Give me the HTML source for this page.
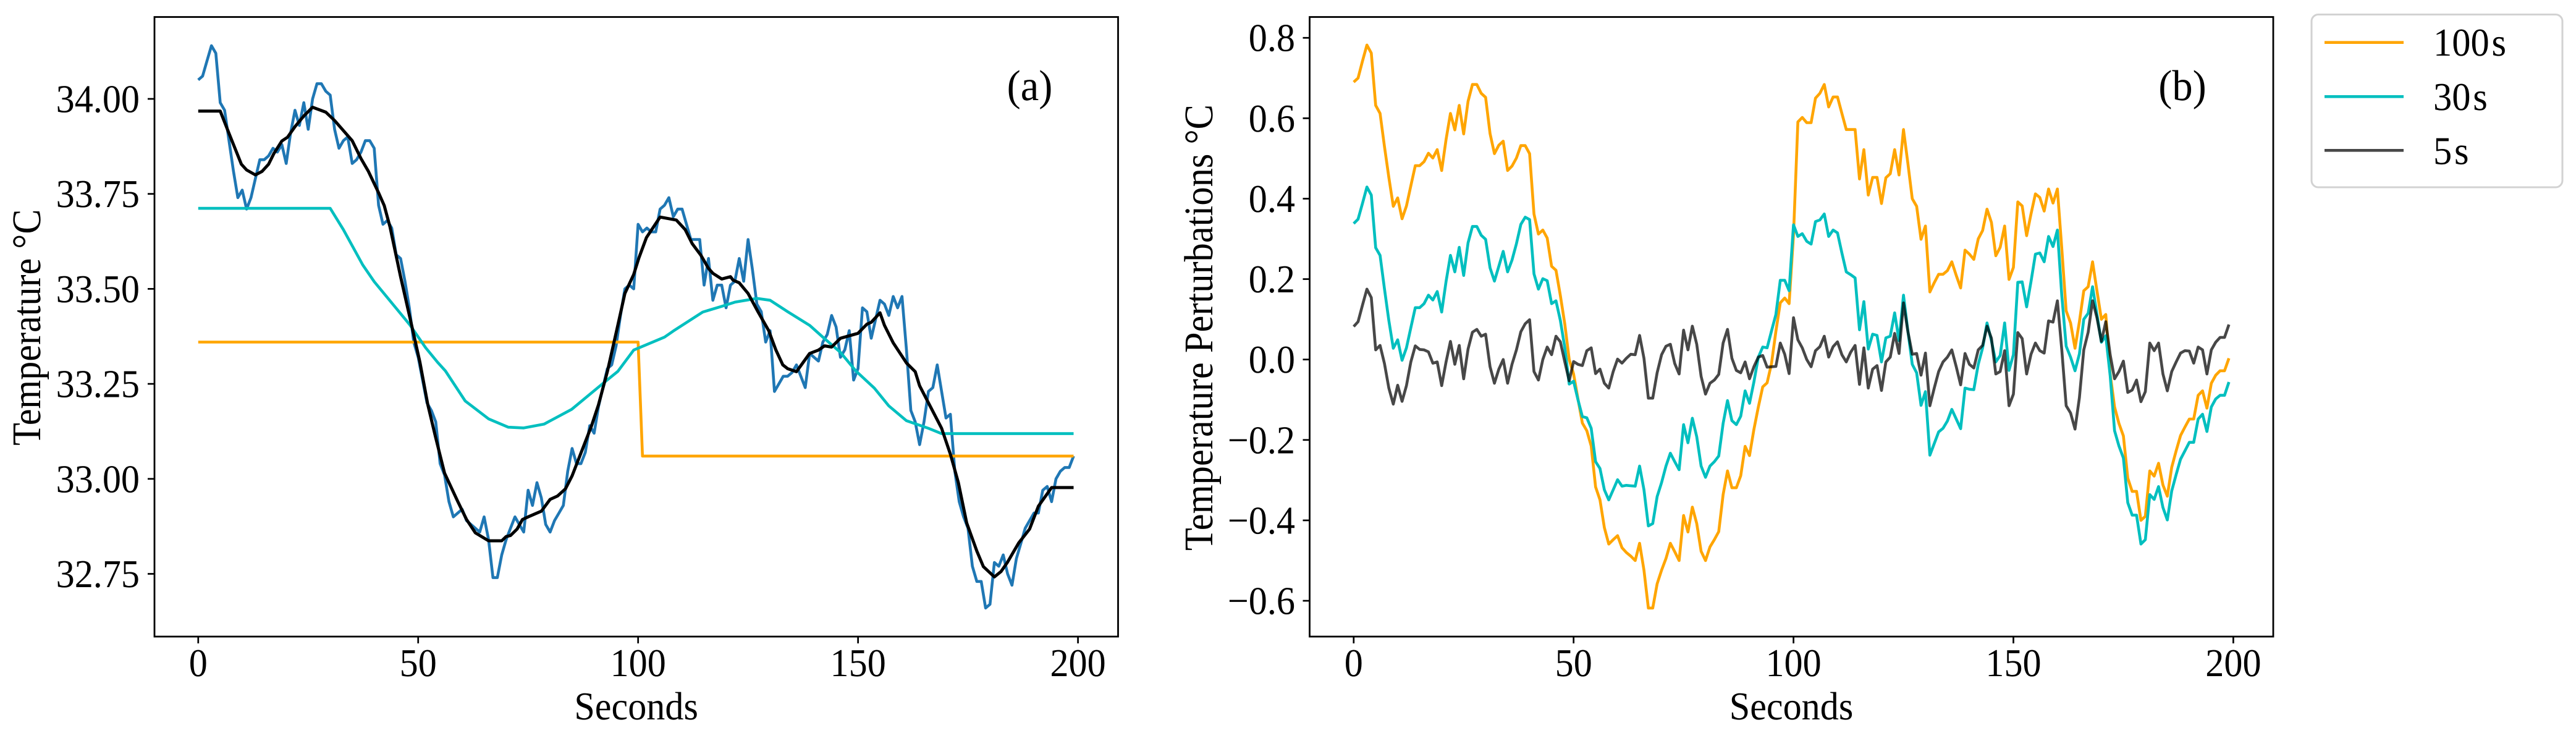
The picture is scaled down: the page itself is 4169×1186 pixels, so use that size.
<!DOCTYPE html>
<html lang="en">
<head>
<meta charset="utf-8">
<title>Temperature and temperature perturbations</title>
<style>
html,body{margin:0;padding:0;background:#fff;}
svg{display:block;}
text{font-family:"Liberation Serif",serif;fill:#000;text-rendering:geometricPrecision;}
</style>
</head>
<body>
<svg id="figure" xmlns="http://www.w3.org/2000/svg" width="4169" height="1186" viewBox="0 0 4169 1186">
  <rect x="0" y="0" width="4169" height="1186" fill="#fff"/>
  <g id="panelA"></g>
  <g id="panelB"></g>
  <g id="legend">
    <rect x="3741" y="23.5" width="406" height="279.5" rx="11" fill="#fff" stroke="#d2d2d2" stroke-width="3"/>
    <line x1="3762" x2="3890" y1="68.7" y2="68.7" stroke="#ffa500" stroke-width="4.7"/>
    <text transform="translate(3938 90) scale(.945 1)" font-size="64">100<tspan dx="4">s</tspan></text>
    <line x1="3762" x2="3890" y1="156.3" y2="156.3" stroke="#00bfbf" stroke-width="4.7"/>
    <text transform="translate(3938 178) scale(.945 1)" font-size="64">30<tspan dx="4">s</tspan></text>
    <line x1="3762" x2="3890" y1="243.3" y2="243.3" stroke="#000" stroke-opacity=".72" stroke-width="4.7"/>
    <text transform="translate(3938 265.5) scale(.945 1)" font-size="64">5<tspan dx="4">s</tspan></text>
  </g>
</svg>
<script>
const xTickValues = [0, 50, 100, 150, 200];
const xTickLabels = ["0", "50", "100", "150", "200"];
const yTickValuesA = [34, 33.75, 33.5, 33.25, 33, 32.75];
const yTickLabelsA = ["34.00", "33.75", "33.50", "33.25", "33.00", "32.75"];
const yTickValuesB = [0.8, 0.6, 0.4, 0.2, 0, -0.2, -0.4, -0.6];
const yTickLabelsB = ["0.8", "0.6", "0.4", "0.2", "0.0", "\u22120.2", "\u22120.4", "\u22120.6"];

const rawTemperature = [
34.05,34.06,34.10,34.14,34.12,33.99,33.97,33.89,33.81,33.74,
33.76,33.71,33.74,33.79,33.84,33.84,33.85,33.87,33.86,33.88,
33.83,33.91,33.97,33.93,33.99,33.92,34.00,34.04,34.04,34.02,
34.01,33.92,33.87,33.89,33.90,33.83,33.84,33.86,33.89,33.89,
33.87,33.72,33.67,33.68,33.66,33.59,33.58,33.52,33.45,33.36,
33.32,33.26,33.20,33.18,33.15,33.04,33.01,32.94,32.90,32.91,
32.92,32.89,32.88,32.87,32.86,32.90,32.84,32.74,32.74,32.80,
32.84,32.87,32.90,32.88,32.86,32.97,32.93,32.99,32.95,32.88,
32.86,32.89,32.91,32.93,33.02,33.08,33.04,33.04,33.07,33.14,
33.12,33.19,33.24,33.29,33.30,33.35,33.43,33.50,33.51,33.50,
33.67,33.65,33.66,33.65,33.65,33.71,33.72,33.74,33.69,33.71,
33.71,33.67,33.63,33.63,33.63,33.51,33.58,33.47,33.51,33.51,
33.45,33.51,33.52,33.58,33.52,33.63,33.55,33.46,33.44,33.36,
33.39,33.23,33.25,33.27,33.27,33.28,33.30,33.27,33.24,33.33,
33.32,33.31,33.36,33.38,33.43,33.40,33.32,33.34,33.39,33.26,
33.29,33.45,33.44,33.37,33.42,33.47,33.46,33.43,33.48,33.45,
33.48,33.34,33.18,33.15,33.09,33.15,33.23,33.24,33.30,33.23,
33.16,33.17,33.02,32.94,32.90,32.87,32.77,32.73,32.73,32.66,
32.67,32.78,32.77,32.80,32.75,32.72,32.79,32.83,32.87,32.89,
32.91,32.91,32.97,32.98,32.94,33.00,33.02,33.03,33.03,33.06];

const mean100Times = [0, 100, 101, 199];
const mean100Values = [33.36, 33.36, 33.06, 33.06];

const mean30Times = [0,30,33,37.4,40,48,51.7,54.4,56.2,60.7,66,70.5,74,78.6,84.9,92,95.4,99,106,108,114.7,119,122,127,130,134,139,142,146,149.5,153.7,157,161,166,169,199];
const mean30Values = [33.712,33.712,33.656,33.563,33.519,33.407,33.345,33.307,33.284,33.205,33.158,33.136,33.134,33.144,33.183,33.251,33.283,33.339,33.373,33.389,33.439,33.454,33.465,33.475,33.47,33.44,33.404,33.373,33.333,33.284,33.239,33.192,33.153,33.133,33.119,33.119];

const mean5Times = [0,5,6.7,9.8,11,13,14.5,16,17.2,19,20.3,22,24,26,29,31,35,37,38.7,41,42.3,43.6,46,48.6,50.4,52.2,54,56,58.9,61,63,66,69,70,71,72.5,73.7,75,78,80,81.7,83.5,85,87,89.4,91,93,95.4,97,99,100.2,101.9,103.5,105,108.7,110.7,112.3,114.3,116,117,119,121,121.6,123,125,127.3,129.7,131.3,132.9,134,136,139,141,142.4,144,146,150,152,153,155,156,158,161,163,164,166,169,171,172.8,174.7,177,178.5,181,182.5,184,186.5,189,191,194,199];
const mean5Values = [33.968,33.968,33.918,33.828,33.813,33.80,33.809,33.828,33.856,33.889,33.899,33.927,33.955,33.978,33.965,33.943,33.89,33.843,33.809,33.753,33.719,33.663,33.532,33.40,33.307,33.195,33.108,33.015,32.943,32.893,32.858,32.837,32.837,32.848,32.851,32.868,32.893,32.90,32.915,32.946,32.955,32.974,33.008,33.068,33.139,33.195,33.282,33.405,33.488,33.538,33.582,33.635,33.663,33.689,33.681,33.656,33.619,33.588,33.554,33.541,33.526,33.532,33.523,33.516,33.488,33.439,33.39,33.34,33.30,33.29,33.282,33.33,33.339,33.35,33.347,33.37,33.383,33.407,33.412,33.437,33.404,33.358,33.305,33.282,33.245,33.20,33.133,33.065,32.99,32.884,32.81,32.769,32.742,32.756,32.781,32.831,32.868,32.928,32.977,32.977];

const perturb100 = [
.69,.70,.742,.782,.762,.632,.612,.53,.453,.381,
.402,.35,.382,.432,.482,.482,.492,.513,.501,.522,
.47,.547,.612,.571,.632,.561,.642,.684,.684,.662,
.652,.562,.512,.533,.543,.47,.481,.501,.532,.532,
.512,.362,.312,.322,.302,.232,.222,.159,.088,0,
-.036,-.098,-.158,-.177,-.215,-.317,-.349,-.418,-.459,-.448,
-.438,-.468,-.48,-.489,-.5,-.457,-.524,-.618,-.618,-.558,
-.524,-.495,-.457,-.478,-.5,-.388,-.429,-.367,-.408,-.477,
-.5,-.466,-.448,-.428,-.336,-.277,-.319,-.319,-.289,-.216,
-.239,-.174,-.118,-.068,-.058,-.01,.07,.141,.153,.139,
.31,.591,.602,.589,.589,.65,.662,.684,.628,.653,
.653,.612,.572,.572,.572,.449,.522,.409,.453,.453,
.388,.452,.462,.522,.459,.572,.488,.4,.381,.299,
.332,.168,.191,.212,.212,.221,.243,.209,.178,.272,
.262,.249,.3,.321,.374,.341,.258,.279,.332,.199,
.229,.392,.382,.308,.362,.412,.403,.369,.424,.389,
.424,.276,.121,.091,.028,.094,.171,.181,.243,.171,
.1,.112,-.036,-.118,-.159,-.19,-.295,-.328,-.328,-.4,
-.39,-.277,-.29,-.258,-.312,-.34,-.268,-.227,-.189,-.168,
-.148,-.148,-.089,-.078,-.121,-.059,-.039,-.028,-.028,.003];

const perturb30 = [
.338,.349,.388,.429,.409,.278,.259,.176,.097,.028,
.049,-.002,.029,.079,.129,.129,.139,.16,.148,.169,
.118,.194,.259,.218,.279,.209,.29,.331,.331,.309,
.299,.228,.195,.232,.269,.218,.247,.288,.336,.354,
.348,.213,.175,.201,.196,.139,.146,.097,.029,-.061,
-.054,-.1,-.142,-.145,-.171,-.254,-.271,-.324,-.349,-.324,
-.299,-.315,-.313,-.314,-.315,-.265,-.324,-.414,-.408,-.341,
-.306,-.265,-.233,-.254,-.274,-.162,-.207,-.146,-.192,-.265,
-.293,-.265,-.254,-.24,-.159,-.102,-.152,-.162,-.141,-.078,
-.109,-.056,.006,.031,.029,.071,.112,.197,.197,.171,
.335,.306,.313,.294,.287,.343,.347,.362,.306,.322,
.315,.265,.218,.211,.203,.074,.144,.026,.063,.06,
-.006,.054,.058,.116,.047,.16,.071,-.012,-.033,-.114,
-.08,-.238,-.209,-.18,-.171,-.153,-.124,-.148,-.172,-.071,
-.074,-.075,-.012,.029,.091,.047,-.006,.01,.091,-.027,
.012,.192,.193,.131,.194,.262,.265,.243,.306,.281,
.322,.159,.033,.006,-.028,.014,.1,.115,.181,.112,
.043,.059,-.04,-.177,-.215,-.245,-.356,-.387,-.387,-.459,
-.448,-.336,-.348,-.316,-.368,-.399,-.327,-.286,-.248,-.227,
-.206,-.206,-.148,-.136,-.179,-.118,-.098,-.089,-.089,-.056];

const perturb5 = [
.082,.094,.135,.175,.154,.024,.035,-.01,-.071,-.111,
-.064,-.104,-.065,-.006,.034,.025,.024,.019,-.009,-.006,
-.065,-.006,.045,-.012,.035,-.048,.026,.068,.075,.058,
.063,-.018,-.059,-.024,0,-.059,-.012,.024,.069,.089,
.099,-.03,-.051,0,.031,.012,.058,.044,-.006,-.053,
-.005,-.012,-.015,.022,.029,-.035,-.024,-.059,-.071,-.03,
.001,-.009,.003,.013,.012,.06,.003,-.096,-.096,-.033,
.012,.033,.038,-.01,-.036,.073,.024,.083,.038,-.042,
-.086,-.059,-.051,-.037,.041,.075,.003,-.027,-.033,-.006,
-.048,-.018,.006,.01,-.019,-.018,-.017,.041,.013,-.035,
.104,.049,.029,0,-.018,.022,.032,.058,.006,.032,
.044,.012,-.006,.018,.035,-.062,.029,-.071,-.024,-.015,
-.077,-.006,.006,.065,.015,.141,.07,.013,.015,-.039,
.016,-.115,-.071,-.03,-.006,.006,.024,-.018,-.063,.015,
-.012,-.021,.024,.035,.083,.053,-.036,-.03,.022,-.115,
-.086,.067,.052,-.036,.013,.041,.022,.016,.096,.093,
.146,.024,-.115,-.133,-.173,-.095,.024,.068,.146,.104,
.045,.094,.012,-.048,-.03,-.004,-.082,-.076,-.051,-.105,
-.08,.041,.022,.041,-.036,-.078,-.03,-.006,.016,.022,
.021,-.009,.031,.024,-.036,.024,.043,.055,.055,.087];

const SVGNS = "http://www.w3.org/2000/svg";
const panelA = document.getElementById("panelA");
const panelB = document.getElementById("panelB");

const xScaleA = t => 320.8 + 7.119 * t;
const yScaleA = v => 160 + (34 - v) * 614.8;
const xScaleB = t => 2190.8 + 7.118 * t;
const yScaleB = v => 581.7 - v * 650.6;

function shape(parent, tag, attrs) {
  const el = document.createElementNS(SVGNS, tag);
  for (const k in attrs) el.setAttribute(k, attrs[k]);
  parent.appendChild(el);
  return el;
}

function drawLine(parent, times, values, xs, ys, color, width, opacity, name) {
  const pts = values.map((v, i) => xs(times ? times[i] : i).toFixed(1) + "," + ys(v).toFixed(1)).join(" ");
  const el = shape(parent, "polyline", {points: pts, fill: "none", stroke: color, "stroke-width": width, "stroke-opacity": opacity, "stroke-linejoin": "round", "stroke-linecap": "butt"});
  
  
}

function drawText(parent, str, x, y, anchor, size, sx, name, rot) {
  const tr = "translate(" + x + " " + y + ")" + (rot ? " rotate(-90)" : "") + " scale(" + sx + " " + (rot ? 1.03 : 1) + ")";
  const el = shape(parent, "text", {transform: tr, "text-anchor": anchor, "font-size": size});
  el.textContent = str;
  
  
}

function drawAxes(parent, box, xs, ys, yVals, yLabels, yLabelRight, suffix) {
  const frame = shape(parent, "rect", {x: box.l, y: box.t, width: box.r - box.l, height: box.b - box.t, fill: "none", stroke: "#000", "stroke-width": 2.8});
  
  
  xTickValues.forEach((t, i) => {
    const tick = shape(parent, "line", {x1: xs(t), x2: xs(t), y1: box.b, y2: box.b + 11, stroke: "#000", "stroke-width": 2.7});
    
    
    drawText(parent, xTickLabels[i], xs(t), 1094, "middle", 64, 0.94, "x-tick-label-" + suffix);
  });
  yVals.forEach((v, i) => {
    const tick = shape(parent, "line", {x1: box.l - 11, x2: box.l, y1: ys(v), y2: ys(v), stroke: "#000", "stroke-width": 2.7});
    
    
    drawText(parent, yLabels[i], yLabelRight, ys(v) + 21.5, "end", 64, 0.94, "y-tick-label-" + suffix);
  });
}

const boxA = {l: 250, r: 1809.5, t: 27.5, b: 1030};
const boxB = {l: 2119.5, r: 3679, t: 27.5, b: 1030};

drawLine(panelA, null, rawTemperature, xScaleA, yScaleA, "#1f77b4", 4.6, 1, "raw-temperature-line");
drawLine(panelA, mean100Times, mean100Values, xScaleA, yScaleA, "#ffa500", 4.6, 1, "mean-100s-line");
drawLine(panelA, mean30Times, mean30Values, xScaleA, yScaleA, "#00bfbf", 4.6, 1, "mean-30s-line");
drawLine(panelA, mean5Times, mean5Values, xScaleA, yScaleA, "#000000", 5, 1, "mean-5s-line");
drawAxes(panelA, boxA, xScaleA, yScaleA, yTickValuesA, yTickLabelsA, 226, "a");
drawText(panelA, "Seconds", 1029.6, 1164, "middle", 64, 0.94, "x-axis-title-a");
drawText(panelA, "Temperature \u00B0C", 65, 529.7, "middle", 64, 0.94, "y-axis-title-a", true);
drawText(panelA, "(a)", 1666.5, 162, "middle", 70, 0.95, "panel-label-a");

drawLine(panelB, null, perturb100, xScaleB, yScaleB, "#ffa500", 4.6, 1, "perturbation-100s-line");
drawLine(panelB, null, perturb30, xScaleB, yScaleB, "#00bfbf", 4.6, 1, "perturbation-30s-line");
drawLine(panelB, null, perturb5, xScaleB, yScaleB, "#000000", 4.6, 0.72, "perturbation-5s-line");
drawAxes(panelB, boxB, xScaleB, yScaleB, yTickValuesB, yTickLabelsB, 2096, "b");
drawText(panelB, "Seconds", 2899, 1164, "middle", 64, 0.94, "x-axis-title-b");
drawText(panelB, "Temperature Perturbations \u00B0C", 1962, 530, "middle", 64, 0.945, "y-axis-title-b", true);
drawText(panelB, "(b)", 3532, 162, "middle", 70, 0.95, "panel-label-b");
</script>
</body>
</html>
